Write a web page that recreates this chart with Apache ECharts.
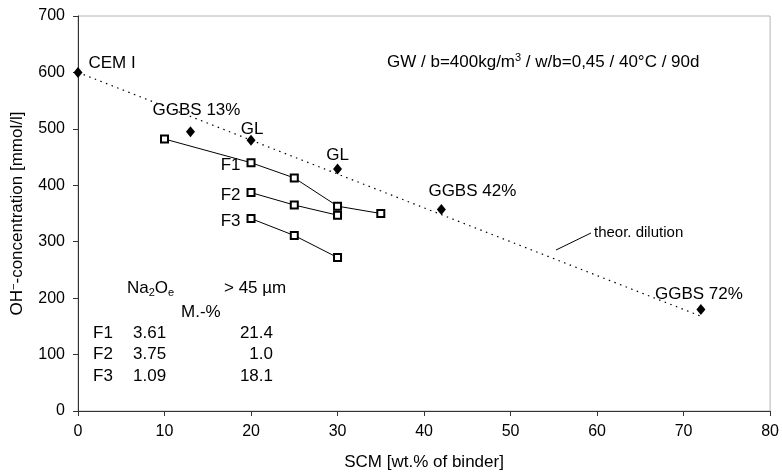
<!DOCTYPE html>
<html>
<head>
<meta charset="UTF-8">
<title>OH- concentration vs SCM</title>
<script src="https://cdn.jsdelivr.net/npm/echarts@6/dist/echarts.min.js"></script>
<style>html,body{margin:0;padding:0;background:#fff;}</style>
</head>
<body>
<div id="main" style="width:782px;height:476px"></div>
<script type="text/javascript">
// reference mixes (black diamonds)
var refNames = ['CEM I', 'GGBS 13%', 'GL', 'GL', 'GGBS 42%', 'GGBS 72%'];
var refX = [0, 13, 20, 30, 42, 72];
var refY = [600, 495, 480, 429, 357, 180];
// theoretical dilution line
var dilX = [0, 72];
var dilY = [600, 168];
// fly ash series (open squares)
var f1X = [10, 20, 25, 30, 35];
var f1Y = [482, 440, 413, 363, 350];
var f2X = [20, 25, 30];
var f2Y = [387, 365, 347];
var f3X = [20, 25, 30];
var f3Y = [341, 311, 272];
// little table in the lower left
var tableRows = [
  ['F1', '3.61', '21.4'],
  ['F2', '3.75', '1.0'],
  ['F3', '1.09', '18.1']
];

// label offsets for the diamond labels (px, relative to the point)
var refLabelOffsets = [[34, -9], [6, -21], [1, -11], [0, -14], [31, -18], [-2, -15]];

var FONT = 'Liberation Sans, Arial, sans-serif';

function pairs(xs, ys) {
  return xs.map(function (x, i) { return [x, ys[i]]; });
}

var refData = refX.map(function (x, i) {
  return {
    value: [x, refY[i]], name: refNames[i],
    label: {
      show: true, formatter: '{b}', position: 'inside', offset: refLabelOffsets[i],
      color: '#000', fontSize: 17, fontFamily: FONT, textBorderWidth: 0
    }
  };
});

function fSeries(name, xs, ys, labelIdx) {
  var data = pairs(xs, ys).map(function (p, i) {
    if (i === labelIdx) {
      return { value: p, label: { show: true, formatter: name } };
    }
    return { value: p };
  });
  return {
    name: name,
    type: 'line',
    data: data,
    symbol: 'emptyRect',
    symbolSize: 7,
    lineStyle: { color: '#000', width: 1 },
    itemStyle: { color: '#000', borderColor: '#000', borderWidth: 1 },
    label: {
      show: false, position: 'left', distance: 6, offset: [0, 3],
      color: '#000', fontSize: 17, fontFamily: FONT
    },
    z: 3
  };
}

var graphics = [];
// header of the table
graphics.push({
  type: 'text', left: 127, top: 280,
  style: {
    text: '{n|Na}{s|2}{n|O}{s|e}', fill: '#000',
    rich: {
      n: { fontSize: 17, fontFamily: FONT, lineHeight: 19, color: '#000' },
      s: { fontSize: 11, fontFamily: FONT, lineHeight: 13, verticalAlign: 'bottom', color: '#000' }
    }
  }
});
graphics.push({ type: 'text', left: 224, top: 280, style: { text: '> 45 µm', fill: '#000', font: '17px ' + FONT } });
graphics.push({ type: 'text', left: 181, top: 304, style: { text: 'M.-%', fill: '#000', font: '17px ' + FONT } });
tableRows.forEach(function (row, i) {
  var y = 333 + i * 21.5;
  graphics.push({ type: 'text', x: 93, y: y, style: { text: row[0], fill: '#000', font: '17px ' + FONT, verticalAlign: 'middle' } });
  graphics.push({ type: 'text', x: 133, y: y, style: { text: row[1], fill: '#000', font: '17px ' + FONT, verticalAlign: 'middle' } });
  graphics.push({ type: 'text', x: 273, y: y, style: { text: row[2], fill: '#000', font: '17px ' + FONT, align: 'right', verticalAlign: 'middle' } });
});
// conditions text
graphics.push({
  type: 'text', x: 387, y: 62,
  style: {
    text: '{n|GW / b=400kg/m}{s|3}{n| / w/b=0,45 / 40°C / 90d}', verticalAlign: 'middle',
    rich: {
      n: { fontSize: 17, fontFamily: FONT, lineHeight: 19, color: '#000' },
      s: { fontSize: 11, fontFamily: FONT, lineHeight: 11, verticalAlign: 'top', color: '#000' }
    }
  }
});
// theor. dilution callout
graphics.push({ type: 'line', shape: { x1: 556, y1: 250, x2: 591, y2: 233 }, style: { stroke: '#000', lineWidth: 1 } });
graphics.push({ type: 'text', x: 594, y: 233, style: { text: 'theor. dilution', fill: '#000', font: '15px ' + FONT, verticalAlign: 'middle' } });

var option = {
  animation: false,
  backgroundColor: '#fff',
  textStyle: { fontFamily: FONT },
  grid: { left: 77, right: 9, top: 16, bottom: 65, show: true, borderColor: '#b4b4b4', borderWidth: 1 },
  xAxis: {
    type: 'value', min: 0, max: 80, interval: 10,
    name: 'SCM [wt.% of binder]', nameLocation: 'middle', nameGap: 43,
    nameTextStyle: { color: '#000', fontSize: 17, fontFamily: FONT },
    axisLine: { show: true, onZero: false, lineStyle: { color: '#333', width: 1 } },
    axisTick: { show: true, length: 5, lineStyle: { color: '#333' } },
    axisLabel: { color: '#000', fontSize: 16, fontFamily: FONT, margin: 13 },
    splitLine: { show: false }
  },
  yAxis: {
    type: 'value', min: 0, max: 700, interval: 100,
    name: '{n|OH}{s|−}{n|-concentration [mmol/l]}', nameLocation: 'middle', nameGap: 51,
    nameTextStyle: {
      color: '#000',
      rich: {
        n: { fontSize: 17, fontFamily: FONT, lineHeight: 19, color: '#000' },
        s: { fontSize: 11, fontFamily: FONT, lineHeight: 11, verticalAlign: 'top', color: '#000' }
      }
    },
    axisLine: { show: true, onZero: false, lineStyle: { color: '#333', width: 1 } },
    axisTick: { show: true, length: 5, lineStyle: { color: '#333' } },
    axisLabel: { color: '#000', fontSize: 16, fontFamily: FONT, margin: 13 },
    splitLine: { show: false }
  },
  series: [
    {
      name: 'theor. dilution',
      type: 'line',
      data: pairs(dilX, dilY),
      symbol: 'none',
      lineStyle: { color: '#000', width: 1.2, type: [1.5, 4.5] },
      z: 1
    },
    fSeries('F1', f1X, f1Y, 1),
    fSeries('F2', f2X, f2Y, 0),
    fSeries('F3', f3X, f3Y, 0),
    {
      name: 'reference',
      type: 'scatter',
      data: refData,
      symbol: 'diamond',
      symbolSize: [9, 11],
      itemStyle: { color: '#000', opacity: 1 },
      clip: false,
      z: 4
    }
  ],
  graphic: graphics
};

var myChart = echarts.init(document.getElementById('main'));
myChart.setOption(option);
</script>
</body>
</html>
